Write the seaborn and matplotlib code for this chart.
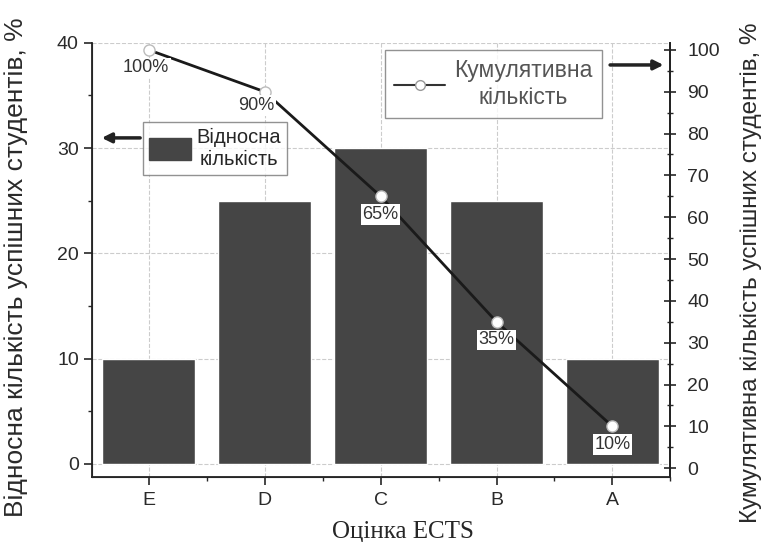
import numpy as np
import pandas as pd
import seaborn as sns
import matplotlib.pyplot as plt
from matplotlib.patches import Patch
from matplotlib.lines import Line2D
from matplotlib.ticker import MultipleLocator

# дані
grades = ["E", "D", "C", "B", "A"]
relative = [10, 25, 30, 25, 10]
cumulative = [100, 90, 65, 35, 10]
cum_labels = ["100%", "90%", "65%", "35%", "10%"]

df = pd.DataFrame({"grade": grades, "rel": relative, "cum": cumulative})

sns.set_style("ticks")
plt.rcParams["font.family"] = ["Liberation Sans", "DejaVu Sans"]

bar_color = "#454545"
text_color = "#2a2a2a"

fig = plt.figure(figsize=(7.67, 5.42), dpi=100)
ax = fig.add_axes([0.120, 0.120, 0.754, 0.801])

# стовпці
sns.barplot(data=df, x="grade", y="rel", order=grades, color=bar_color,
            saturation=1, width=0.8, ax=ax, zorder=2)
ax.set_xlim(-0.49, 4.43)
ax.set_ylim(-1.24, 40)
ax.yaxis.set_major_locator(MultipleLocator(10))
ax.yaxis.set_minor_locator(MultipleLocator(5))
ax.set_xticks(np.arange(len(grades)) + 0.5, minor=True)
ax.grid(True, which="major", color="#cccccc", linestyle="--", linewidth=0.8)
ax.set_axisbelow(True)
ax.tick_params(axis="both", which="major", labelsize=14, length=6, width=1.2,
               direction="out", labelcolor=text_color)
ax.tick_params(axis="x", which="major", pad=5)
ax.tick_params(axis="both", which="minor", length=3, width=1.0, direction="out")
ax.spines["top"].set_visible(False)
for s in ["left", "bottom", "right"]:
    ax.spines[s].set_linewidth(1.3)
    ax.spines[s].set_color("#222222")

ax.set_ylabel("Відносна кількість успішних студентів, %", fontsize=19, color=text_color)
ax.yaxis.set_label_coords(-0.11, 0.484)
ax.set_xlabel("Оцінка ECTS", fontsize=18, family=["Liberation Serif", "DejaVu Serif"])
ax.xaxis.set_label_coords(0.538, -0.102)

# кумулятивна крива
ax2 = ax.twinx()
x_pos = np.arange(len(grades))
sns.lineplot(x=x_pos, y=cumulative, ax=ax2, color="#1a1a1a", linewidth=2,
             marker="o", markersize=8, markerfacecolor="white",
             markeredgecolor="#bbbbbb", markeredgewidth=1)
ax2.set_ylim(-2.1, 101.7)
ax2.yaxis.set_major_locator(MultipleLocator(10))
ax2.yaxis.set_minor_locator(MultipleLocator(5))
ax2.tick_params(axis="y", which="major", labelsize=14, length=8, width=1.2,
                direction="inout", pad=8, labelcolor=text_color)
ax2.tick_params(axis="y", which="minor", length=5, width=1.0, direction="inout")
ax2.spines["top"].set_visible(False)
ax2.spines["right"].set_linewidth(1.3)
ax2.spines["right"].set_color("#222222")
ax2.set_ylabel("Кумулятивна кількість успішних студентів, %", fontsize=17.5, color=text_color)
ax2.yaxis.set_label_coords(1.12, 0.47)

offsets = [(-2, -13), (-6, -10), (0, -13), (0, -13), (0, -13)]
for i, (v, lab) in enumerate(zip(cumulative, cum_labels)):
    ax2.annotate(lab, (i, v), xytext=offsets[i], textcoords="offset points",
                 ha="center", va="center", fontsize=13, color="#333333",
                 bbox=dict(boxstyle="square,pad=0.1", fc="white", ec="none"))

# легенди
leg1 = ax.legend(handles=[Patch(facecolor=bar_color, edgecolor=bar_color)],
                 labels=["Відносна\nкількість"], loc="upper left",
                 bbox_to_anchor=(0.088, 0.818), frameon=True, fancybox=False,
                 edgecolor="#777777", fontsize=14.5, handlelength=2.1, handleheight=1.3,
                 borderpad=0.3, borderaxespad=0, handletextpad=0.25)
leg1.get_frame().set_linewidth(1.0)
leg1.get_texts()[0].set_multialignment("center")
leg1.set_zorder(5)

leg2 = ax2.legend(handles=[Line2D([0], [0], color="#333333", lw=1.5, marker="o",
                                  markersize=7, markerfacecolor="white",
                                  markeredgecolor="#999999")],
                  labels=["Кумулятивна\nкількість"], loc="upper left",
                  bbox_to_anchor=(0.507, 0.984), frameon=True, fancybox=False,
                  edgecolor="#777777", fontsize=16.5, handlelength=2.2,
                  borderpad=0.4, borderaxespad=0, handletextpad=0.4, labelcolor="#555555")
leg2.get_frame().set_linewidth(1.0)
leg2.get_texts()[0].set_multialignment("center")

ax.annotate("", xy=(0.012, 0.781), xytext=(0.088, 0.781), xycoords="axes fraction",
            arrowprops=dict(arrowstyle="-|>", color="#222222", lw=2.5, mutation_scale=14))
ax2.annotate("", xy=(0.993, 0.949), xytext=(0.891, 0.949), xycoords="axes fraction",
             arrowprops=dict(arrowstyle="-|>", color="#222222", lw=2.5, mutation_scale=14))

fig.savefig("out.png", dpi=100)
